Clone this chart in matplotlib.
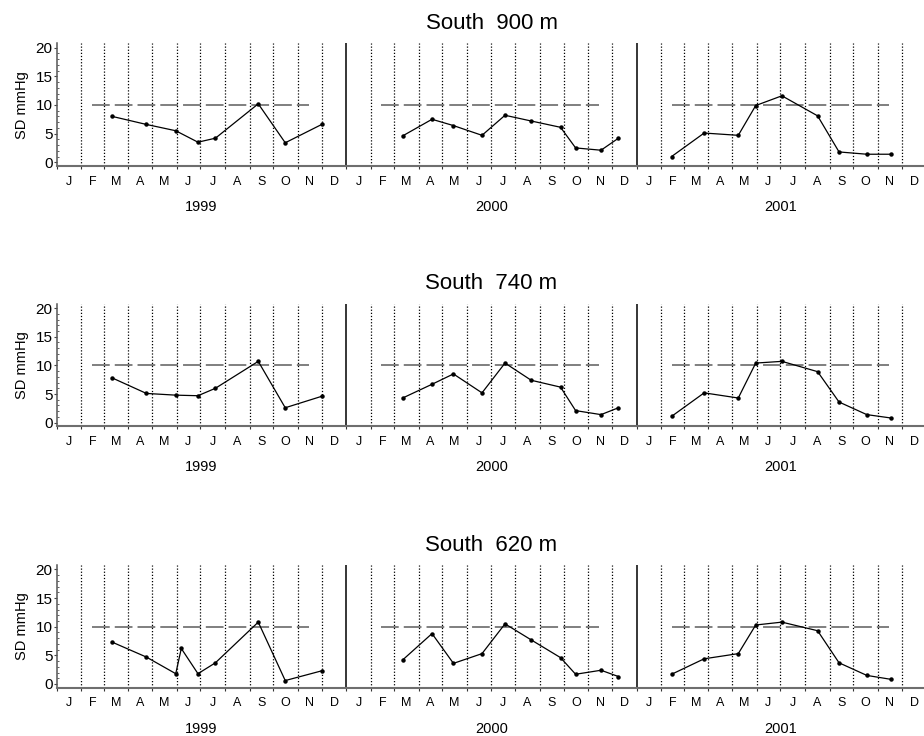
import numpy as np
import pandas as pd
import matplotlib
matplotlib.use('Agg')
import matplotlib.pyplot as plt
import matplotlib.dates as mdates

plt.rcParams['font.family'] = ['Liberation Sans', 'DejaVu Sans']

years = [1999, 2000, 2001]
month_letters = ['J', 'F', 'M', 'A', 'M', 'J', 'J', 'A', 'S', 'O', 'N', 'D']
titles = ['South  900 m', 'South  740 m', 'South  620 m']

# sampling dates (month-day) per year
days_1999 = ['03-12', '04-24', '05-31', '06-28', '07-20', '09-12', '10-16', '12-01']
days_1999_620 = ['03-12', '04-24', '05-31', '06-07', '06-28', '07-20', '09-12', '10-16', '12-01']
days_2000 = ['03-12', '04-18', '05-15', '06-20', '07-19', '08-21', '09-27', '10-16', '11-17', '12-09']
days_2001 = ['02-14', '03-27', '05-09', '05-31', '07-03', '08-17', '09-13', '10-18', '11-18']

# SD values (mmHg)
sd_900_1999 = [8.0, 6.6, 5.5, 3.5, 4.2, 10.2, 3.4, 6.6]
sd_900_2000 = [4.6, 7.5, 6.4, 4.7, 8.2, 7.2, 6.1, 2.5, 2.1, 4.2]
sd_900_2001 = [1.0, 5.1, 4.7, 9.9, 11.6, 8.1, 1.8, 1.4, 1.4]

sd_740_1999 = [7.8, 5.1, 4.8, 4.7, 6.0, 10.7, 2.6, 4.6]
sd_740_2000 = [4.3, 6.7, 8.5, 5.2, 10.4, 7.4, 6.2, 2.1, 1.4, 2.6]
sd_740_2001 = [1.1, 5.2, 4.3, 10.4, 10.7, 8.9, 3.6, 1.4, 0.8]

sd_620_1999 = [7.3, 4.7, 1.8, 6.2, 1.8, 3.7, 10.8, 0.6, 2.3]
sd_620_2000 = [4.2, 8.8, 3.6, 5.3, 10.5, 7.7, 4.6, 1.7, 2.4, 1.3]
sd_620_2001 = [1.7, 4.4, 5.3, 10.3, 10.8, 9.3, 3.7, 1.5, 0.8]

threshold = 10
threshold_from = '02-14'
threshold_to = '11-15'

rows = [
    [(days_1999, sd_900_1999), (days_2000, sd_900_2000), (days_2001, sd_900_2001)],
    [(days_1999, sd_740_1999), (days_2000, sd_740_2000), (days_2001, sd_740_2001)],
    [(days_1999_620, sd_620_1999), (days_2000, sd_620_2000), (days_2001, sd_620_2001)],
]

fig = plt.figure(figsize=(9.24, 7.36), dpi=100)

bottoms = [0.7745, 0.4207, 0.0656]
month_starts = pd.date_range('1999-01-01', '2002-01-01', freq='MS')
month_mids = month_starts[:-1] + (month_starts[1:] - month_starts[:-1]) / 2

for r in range(3):
    ax = fig.add_axes([0.0614, bottoms[r], 0.9411, 0.1667])

    for yr, (days, vals) in zip(years, rows[r]):
        d = pd.to_datetime([f'{yr}-{s}' for s in days])
        ax.plot(d, vals, color='black', lw=0.9, marker='o', ms=2.2, zorder=3)
        ax.plot(pd.to_datetime([f'{yr}-{threshold_from}', f'{yr}-{threshold_to}']),
                [threshold, threshold], color='#5c5c5c', lw=1.1,
                dashes=(11.6, 3.3), zorder=2)
        ax.annotate(str(yr), xy=(pd.Timestamp(f'{yr}-07-02'), 0),
                    xycoords=('data', 'axes fraction'),
                    xytext=(0, -32.4), textcoords='offset points',
                    ha='center', va='baseline', fontsize=10.5)

    for m in month_starts[1:-1]:
        if m.month == 1:
            ax.axvline(m, color='black', lw=1.1)
        else:
            ax.axvline(m, color='black', lw=0.9, dashes=(1, 1.5))

    ax.set_xlim(pd.Timestamp('1999-01-01'), pd.Timestamp('2002-01-01'))
    ax.set_ylim(-0.65, 20.77)

    ax.set_xticks(month_starts)
    ax.set_xticklabels([])
    ax.set_xticks(month_mids, minor=True)
    ax.set_xticklabels(month_letters * 3, minor=True, fontsize=9)
    ax.tick_params(axis='x', which='major', length=2.2, width=0.8, color='#333333')
    ax.tick_params(axis='x', which='minor', length=0, pad=7)

    ax.set_yticks([0, 5, 10, 15, 20])
    ax.set_yticks(np.arange(0, 21, 1), minor=True)
    ax.tick_params(axis='y', which='major', length=2, width=0.8, pad=1,
                   labelsize=11, color='#444444')
    ax.tick_params(axis='y', which='minor', direction='in', length=1.5,
                   width=0.6, color='#444444')
    ax.set_ylabel('SD mmHg', fontsize=10.5, labelpad=5)

    ax.spines['top'].set_visible(False)
    ax.spines['right'].set_visible(False)
    ax.spines['bottom'].set_color('#6e6e6e')
    ax.spines['bottom'].set_linewidth(1.5)
    ax.spines['left'].set_color('#555555')
    ax.spines['left'].set_linewidth(1.1)

    ax.annotate(titles[r], xy=(0.5, 1), xycoords='axes fraction',
                xytext=(0, 10.3), textcoords='offset points',
                ha='center', va='baseline', fontsize=16)

fig.savefig('out.png', dpi=100)
